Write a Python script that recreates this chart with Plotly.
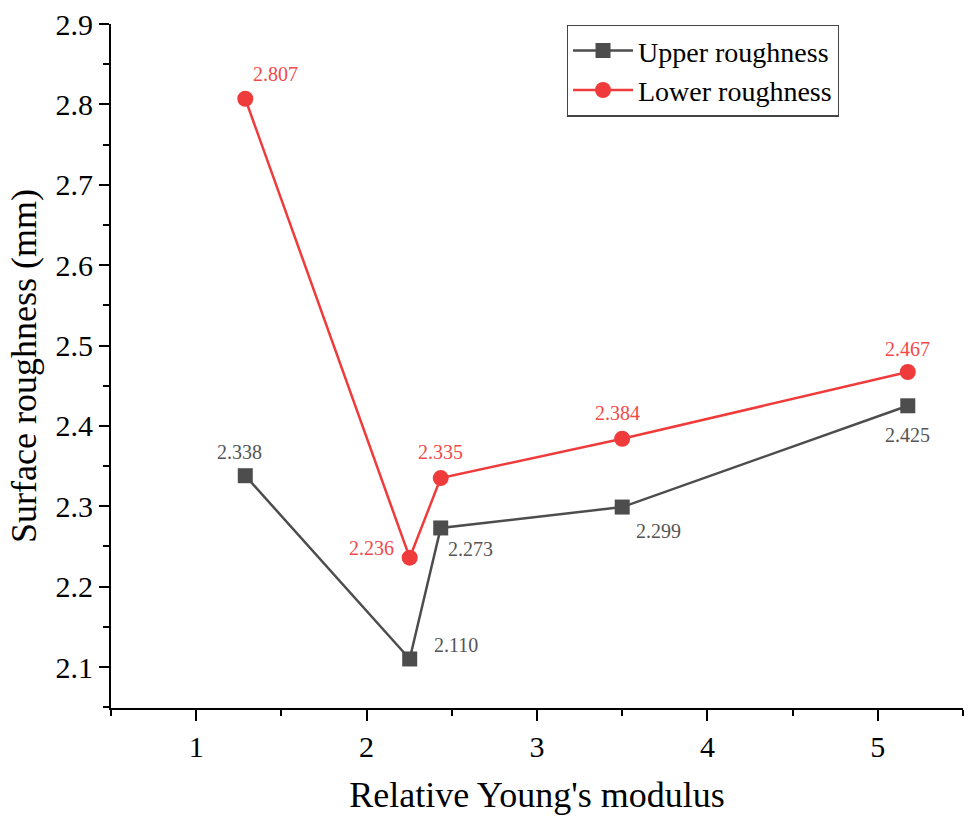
import plotly.graph_objects as go

# Relative Young's modulus values (x) for each sample
modulus = [1.288, 2.253, 2.435, 3.5, 5.176]
upper_roughness = [2.338, 2.110, 2.273, 2.299, 2.425]
lower_roughness = [2.807, 2.236, 2.335, 2.384, 2.467]

GREY = "#4d4d4d"
RED = "#ef3b3b"
FONT = "Liberation Serif"

fig = go.Figure()
fig.add_trace(go.Scatter(
    x=modulus, y=upper_roughness, mode="lines+markers", name="Upper roughness",
    line=dict(color=GREY, width=2.5),
    marker=dict(symbol="square", size=15, color=GREY),
))
fig.add_trace(go.Scatter(
    x=modulus, y=lower_roughness, mode="lines+markers", name="Lower roughness",
    line=dict(color=RED, width=2.5),
    marker=dict(symbol="circle", size=16, color=RED),
))

# value labels: (xshift, yshift) per point
upper_offsets = [(-6, 24), (46, 14), (30, -21), (36, -24), (0, -29)]
lower_offsets = [(30, 25), (-38, 10), (0, 26), (-5, 26), (0, 23)]
for xs, ys, offs, col in [(modulus, upper_roughness, upper_offsets, "#555555"),
                          (modulus, lower_roughness, lower_offsets, "#f04a4a")]:
    for x, y, (dx, dy) in zip(xs, ys, offs):
        fig.add_annotation(x=x, y=y, text=f"{y:.3f}", showarrow=False,
                           xshift=dx, yshift=dy,
                           font=dict(family=FONT, size=20, color=col))

fig.update_layout(
    width=970, height=819,
    margin=dict(l=111, r=7, t=21, b=111),
    paper_bgcolor="white", plot_bgcolor="white",
    font=dict(family=FONT, color="black"),
    showlegend=True,
    legend=dict(x=0.535, y=0.999, xanchor="left", yanchor="top",
                bordercolor="#444444", borderwidth=1.2, bgcolor="white",
                font=dict(family=FONT, size=28), tracegroupgap=0,
                itemwidth=60),
)
fig.update_xaxes(
    range=[0.5, 5.5], dtick=1, tick0=0, showgrid=False, zeroline=False,
    showline=True, linecolor="black", linewidth=2,
    ticks="outside", ticklen=11, tickwidth=2, tickcolor="black",
    minor=dict(dtick=0.5, tick0=0.5, ticks="outside", ticklen=6, tickwidth=2, tickcolor="black"),
    tickfont=dict(family=FONT, size=30),
    title=dict(text="Relative Young's modulus", font=dict(family=FONT, size=36), standoff=20),
)
fig.update_yaxes(
    range=[2.049, 2.9], dtick=0.1, tick0=2.0, tickformat=".1f",
    showgrid=False, zeroline=False,
    showline=True, linecolor="black", linewidth=2,
    ticks="outside", ticklen=10, tickwidth=2, tickcolor="black",
    minor=dict(dtick=0.05, tick0=2.05, ticks="outside", ticklen=6, tickwidth=2, tickcolor="black"),
    tickfont=dict(family=FONT, size=30),
    title=dict(text="Surface roughness (mm)", font=dict(family=FONT, size=36), standoff=8),
)

fig.write_html("out.html")
